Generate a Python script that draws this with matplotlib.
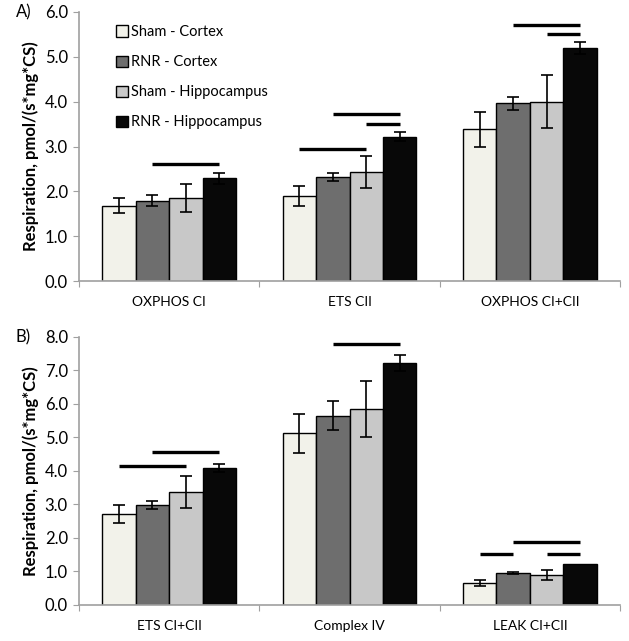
import numpy as np
import matplotlib
matplotlib.use("Agg")
import matplotlib.pyplot as plt

plt.rcParams['font.family'] = ['Lato', 'DejaVu Sans']

groups = ['Sham - Cortex', 'RNR - Cortex', 'Sham - Hippocampus', 'RNR - Hippocampus']
colors = ['#F2F2EA', '#6E6E6E', '#C8C8C8', '#080808']

# panel A
cats_a = ['OXPHOS CI', 'ETS CII', 'OXPHOS CI+CII']
vals_a = [[1.68, 1.90, 3.39],
          [1.79, 2.32, 3.96],
          [1.86, 2.43, 4.00],
          [2.29, 3.22, 5.19]]
err_a = [[0.17, 0.22, 0.39],
         [0.12, 0.08, 0.14],
         [0.31, 0.36, 0.59],
         [0.13, 0.10, 0.13]]
# (category, from bar, to bar, height)
sig_a = [(0, 1, 3, 2.62),
         (1, 0, 2, 2.95), (1, 1, 3, 3.73), (1, 2, 3, 3.50),
         (2, 1, 3, 5.72), (2, 2, 3, 5.50)]

# panel B
cats_b = ['ETS CI+CII', 'Complex IV', 'LEAK CI+CII']
vals_b = [[2.71, 5.12, 0.66],
          [2.99, 5.65, 0.95],
          [3.37, 5.85, 0.89],
          [4.10, 7.23, 1.23]]
err_b = [[0.27, 0.57, 0.09],
         [0.12, 0.43, 0.03],
         [0.48, 0.85, 0.14],
         [0.12, 0.24, 0.0]]
sig_b = [(0, 0, 2, 4.14), (0, 1, 3, 4.56),
         (1, 1, 3, 7.78),
         (2, 0, 1, 1.52), (2, 1, 3, 1.88), (2, 2, 3, 1.52)]

width = 0.185
offsets = (np.arange(4) - 1.5) * width


def draw_panel(ax, cats, vals, errs, sigs, ymax, label, legend=False):
    x = np.arange(len(cats))
    for i in range(4):
        ax.bar(x + offsets[i], vals[i], width, color=colors[i], edgecolor='black',
               linewidth=1.0, label=groups[i], zorder=2)
        e = np.array(errs[i])
        keep = e > 0  # no whisker where there is no error
        ax.errorbar((x + offsets[i])[keep], np.array(vals[i])[keep], yerr=e[keep], fmt='none',
                    ecolor='black', elinewidth=1.2, capsize=4, capthick=1.2, zorder=3)
    for c, a, b, h in sigs:
        ax.plot([c + offsets[a], c + offsets[b]], [h, h], color='black', lw=2.4,
                solid_capstyle='butt', zorder=3)
    ax.set_xlim(-0.5, len(cats) - 0.5)
    ax.set_ylim(0, ymax)
    ticks = np.arange(0, ymax + 0.01, 1.0)
    ax.set_yticks(ticks)
    ax.set_yticklabels(['%.1f' % v for v in ticks], fontsize=12)
    ax.set_xticks(np.arange(len(cats) + 1) - 0.5)
    ax.set_xticklabels([])
    ax.set_xticks(x, minor=True)
    ax.set_xticklabels(cats, minor=True, fontsize=10)
    ax.tick_params(axis='x', which='minor', length=0, pad=11)
    ax.tick_params(axis='x', which='major', length=4, color='#A0A0A0')
    ax.tick_params(axis='y', length=4, color='#A0A0A0', pad=4)
    for s in ['top', 'right']:
        ax.spines[s].set_visible(False)
    for s in ['left', 'bottom']:
        ax.spines[s].set_color('#A0A0A0')
        ax.spines[s].set_linewidth(1.2)
    ax.set_ylabel('Respiration, pmol/(s*mg*CS)', fontsize=12, fontweight='bold', labelpad=4)
    ax.text(-0.117, 1.0, label, transform=ax.transAxes, fontsize=12, va='center', ha='left')
    if legend:
        ax.legend(loc='upper left', bbox_to_anchor=(0.045, 1.0), frameon=False, fontsize=10.5,
                  handlelength=0.8, handleheight=0.8, handletextpad=0.2, labelspacing=1.1)


fig = plt.figure(figsize=(6.29, 6.41), dpi=100)
ax1 = fig.add_axes([0.1256, 0.5616, 0.8601, 0.4197])
ax2 = fig.add_axes([0.1256, 0.0562, 0.8601, 0.4181])

draw_panel(ax1, cats_a, vals_a, err_a, sig_a, 6.0, 'A)', legend=True)
draw_panel(ax2, cats_b, vals_b, err_b, sig_b, 8.0, 'B)')

fig.savefig('out.png', dpi=100)
